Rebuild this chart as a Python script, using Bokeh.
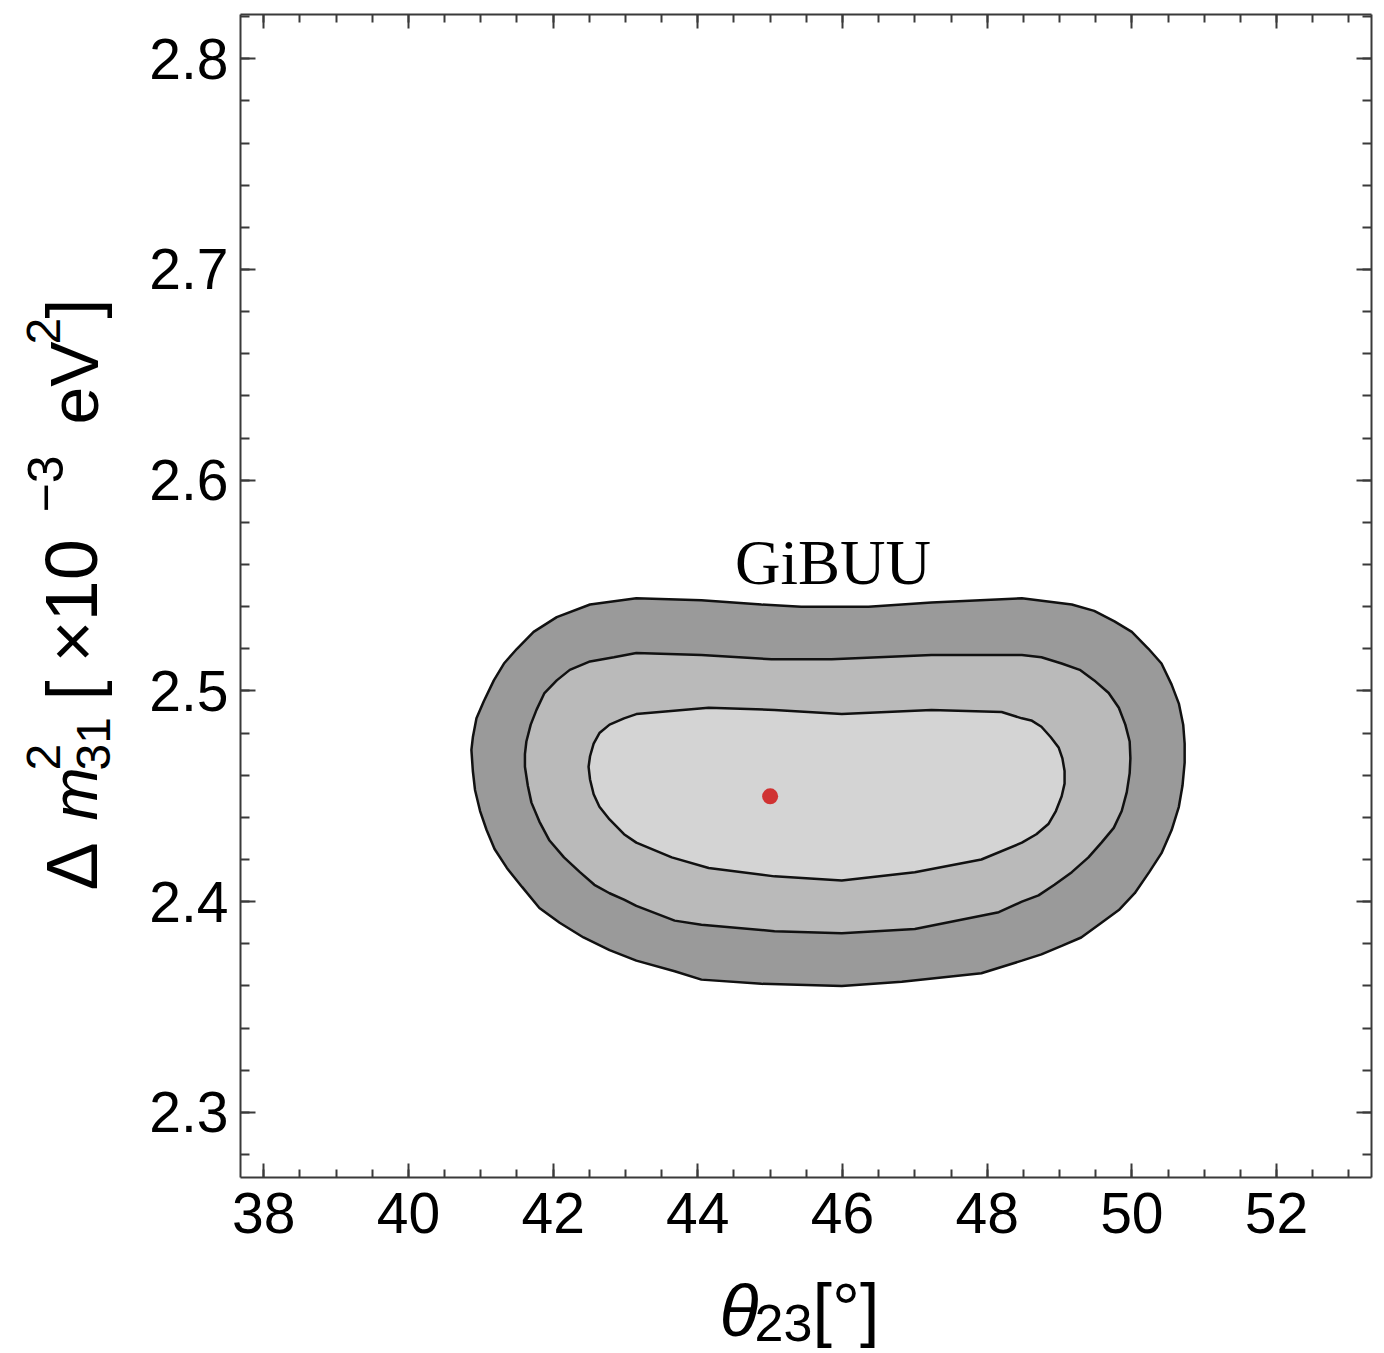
import numpy as np
from bokeh.plotting import figure
from bokeh.models import Range1d, LinearAxis, FixedTicker, Label
from bokeh.embed import file_html
from bokeh.resources import INLINE

# ---------------- data ----------------
X_TICKS = [38, 40, 42, 44, 46, 48, 50, 52]
Y_TICKS = [2.3, 2.4, 2.5, 2.6, 2.7, 2.8]

# 3-sigma (outer) contour: theta23 [deg], dm31^2 [1e-3 eV^2]
OUTER_THETA = [43.15, 44.05, 44.88, 45.43, 46.36, 47.23, 48.48, 49.17, 49.48, 49.76,
               50.00, 50.23, 50.41, 50.55, 50.65, 50.71, 50.73, 50.73, 50.70, 50.65,
               50.55, 50.41, 50.24, 50.04, 49.82, 49.58, 49.30, 49.03, 48.75, 48.48,
               47.92, 46.82, 45.99, 44.88, 44.05, 43.68, 43.15, 42.78, 42.42, 42.09,
               41.81, 41.57, 41.36, 41.19, 41.08, 40.99, 40.92, 40.89, 40.87, 40.89,
               40.94, 41.04, 41.18, 41.32, 41.50, 41.73, 42.05, 42.51]
OUTER_DM = [2.544, 2.543, 2.541, 2.540, 2.540, 2.542, 2.544, 2.541, 2.538, 2.533,
            2.528, 2.520, 2.513, 2.503, 2.494, 2.484, 2.475, 2.466, 2.455, 2.445,
            2.434, 2.423, 2.414, 2.404, 2.396, 2.390, 2.383, 2.379, 2.375, 2.372,
            2.366, 2.362, 2.360, 2.361, 2.363, 2.367, 2.372, 2.377, 2.383, 2.390,
            2.397, 2.407, 2.416, 2.425, 2.434, 2.443, 2.453, 2.462, 2.472, 2.478,
            2.487, 2.495, 2.505, 2.513, 2.520, 2.528, 2.535, 2.541]

# 2-sigma (middle) contour
MID_THETA = [43.15, 44.05, 45.02, 45.85, 47.23, 48.48, 48.75, 49.03, 49.28, 49.48,
             49.68, 49.82, 49.91, 49.97, 49.98, 49.97, 49.93, 49.86, 49.75, 49.58,
             49.40, 49.17, 48.93, 48.71, 48.48, 48.16, 47.00, 45.99, 45.06, 44.05,
             43.68, 43.15, 42.98, 42.78, 42.57, 42.37, 42.15, 41.95, 41.81, 41.70,
             41.65, 41.61, 41.61, 41.63, 41.69, 41.77, 41.88, 42.05, 42.23, 42.51, 42.84]
MID_DM = [2.518, 2.517, 2.515, 2.515, 2.517, 2.517, 2.516, 2.513, 2.510, 2.505,
          2.499, 2.492, 2.484, 2.476, 2.468, 2.461, 2.452, 2.443, 2.435, 2.428,
          2.421, 2.414, 2.408, 2.403, 2.400, 2.395, 2.387, 2.385, 2.386, 2.389,
          2.391, 2.398, 2.401, 2.404, 2.408, 2.414, 2.421, 2.429, 2.438, 2.447,
          2.455, 2.464, 2.470, 2.476, 2.484, 2.491, 2.499, 2.505, 2.510, 2.514, 2.516]

# 1-sigma (inner) contour
INNER_THETA = [43.15, 44.15, 45.06, 45.99, 47.23, 48.20, 48.48, 48.61, 48.75, 48.88,
               48.99, 49.04, 49.07, 49.07, 49.03, 48.95, 48.85, 48.68, 48.48, 47.92,
               47.00, 45.99, 45.06, 44.15, 43.64, 43.15, 42.98, 42.78, 42.64, 42.56,
               42.51, 42.49, 42.51, 42.56, 42.64, 42.78, 42.98]
INNER_DM = [2.489, 2.492, 2.491, 2.489, 2.491, 2.490, 2.487, 2.486, 2.483, 2.478,
            2.473, 2.468, 2.462, 2.456, 2.450, 2.443, 2.437, 2.432, 2.428, 2.420,
            2.414, 2.410, 2.412, 2.416, 2.421, 2.428, 2.432, 2.439, 2.445, 2.451,
            2.458, 2.464, 2.469, 2.475, 2.480, 2.484, 2.487]

# best fit point
BF_THETA = [45.0]
BF_DM = [2.45]

MODEL_NAME = "GiBUU"

# ---------------- layout constants ----------------
W, H = 1384, 1353
X_LO, X_HI = 37.678, 53.313        # plotted theta range (box)
Y_LO, Y_HI = 2.2691, 2.821         # plotted dm2 range (box)
BOX_L, BOX_R, BOX_T, BOX_B = 240, 1371, 14, 1177   # box edges in pixels

sx_scale = (BOX_R - BOX_L) / (X_HI - X_LO)
sy_scale = (BOX_B - BOX_T) / (Y_HI - Y_LO)
x_start = X_LO - BOX_L / sx_scale
x_end = X_HI + (W - BOX_R) / sx_scale
y_end = Y_HI + BOX_T / sy_scale
y_start = Y_LO - (H - BOX_B) / sy_scale

p = figure(frame_width=W, frame_height=H,
           x_range=Range1d(x_start, x_end), y_range=Range1d(y_start, y_end),
           x_axis_location=None, y_axis_location=None,
           output_backend="svg", toolbar_location=None, min_border=0,
           background_fill_color="white", border_fill_color="white",
           outline_line_color=None)
p.xgrid.visible = False
p.ygrid.visible = False

x_minor = list(np.arange(38.0, 53.01, 0.5))
y_minor = list(np.round(np.arange(2.28, 2.821, 0.02), 2))

AX_COL = "#3a3a3a"

def make_axis(ticks, minor, loc, bounds, tick_in, minor_in, labels):
    ax = LinearAxis(fixed_location=loc, bounds=bounds)
    ax.ticker = FixedTicker(ticks=ticks, minor_ticks=minor)
    ax.axis_line_color = AX_COL
    ax.axis_line_width = 2
    ax.major_tick_line_color = AX_COL
    ax.major_tick_line_width = 2
    ax.minor_tick_line_color = AX_COL
    ax.minor_tick_line_width = 2
    ax.major_tick_out = 0
    ax.minor_tick_out = 0
    ax.major_tick_in = tick_in
    ax.minor_tick_in = minor_in
    ax.major_label_text_font = "Liberation Sans"
    ax.major_label_text_color = "black"
    ax.major_label_text_font_size = "57px"
    if not labels:
        ax.major_label_overrides = {t: "" for t in ticks}
        ax.major_label_text_font_size = "0px"
        ax.major_label_standoff = 0
    return ax

bottom = make_axis(X_TICKS, x_minor, Y_LO, (X_LO, X_HI), 14, 8, True)
bottom.major_label_standoff = 15
p.add_layout(bottom, "below")

left = make_axis(Y_TICKS, y_minor, X_LO, (Y_LO, Y_HI), 15, 9, True)
left.major_label_standoff = 12
p.add_layout(left, "left")

top = make_axis(X_TICKS, x_minor, Y_HI, (X_LO, X_HI), 14, 8, False)
p.add_layout(top, "above")

right = make_axis(Y_TICKS, y_minor, X_HI, (Y_LO, Y_HI), 15, 9, False)
p.add_layout(right, "right")

# ---------------- contours ----------------
LINE = dict(line_color="#111111", line_width=2.5)
p.patch(OUTER_THETA, OUTER_DM, fill_color="#9a9a9a", **LINE)
p.patch(MID_THETA, MID_DM, fill_color="#bababa", **LINE)
p.patch(INNER_THETA, INNER_DM, fill_color="#d4d4d4", **LINE)

p.scatter(BF_THETA, BF_DM, size=16, fill_color="#d03232", line_color=None)

p.add_layout(Label(x=45.87, y=2.5605, text=MODEL_NAME, text_font="Liberation Serif",
                   text_font_size="63px", text_align="center", text_baseline="middle",
                   text_color="black"))

# ---------------- axis titles (composed text pieces, canvas pixels) ----------------
MID = 0.35  # offset from text-box middle to baseline, in em

def htext(txt, left_px, baseline_px, fs, style="normal"):
    p.add_layout(Label(x=left_px, y=H - (baseline_px - MID * fs),
                       x_units="screen", y_units="screen", text=txt,
                       text_font="Liberation Sans", text_font_style=style,
                       text_font_size=f"{fs}px", text_align="left",
                       text_baseline="middle", text_color="black"))

def vtext(txt, start_px, baseline_px, fs, style="normal"):
    p.add_layout(Label(x=baseline_px - MID * fs, y=H - start_px,
                       x_units="screen", y_units="screen", text=txt, angle=np.pi / 2,
                       text_font="Liberation Sans", text_font_style=style,
                       text_font_size=f"{fs}px", text_align="left",
                       text_baseline="middle", text_color="black"))

# x title: theta_23 [deg]
htext("θ", 719, 1336, 72, "italic")
htext("23", 754, 1341, 52)
htext("[°]", 812, 1333, 70)

# y title: Delta m^2_31 [x10^-3 eV^2]
vtext("Δ", 890, 97, 72)
vtext("m", 820, 97, 64, "italic")
vtext("2", 770, 60, 48)
vtext("31", 770, 110, 48)
vtext("[", 700, 97, 72)
vtext("×", 662, 97, 72)
vtext("10", 621, 97, 74)
vtext("−3", 512, 62, 50)
vtext("eV", 424, 97, 68)
vtext("2", 344, 60, 48)
vtext("]", 318, 97, 72)

open("out.html", "w").write(file_html(p, INLINE))
